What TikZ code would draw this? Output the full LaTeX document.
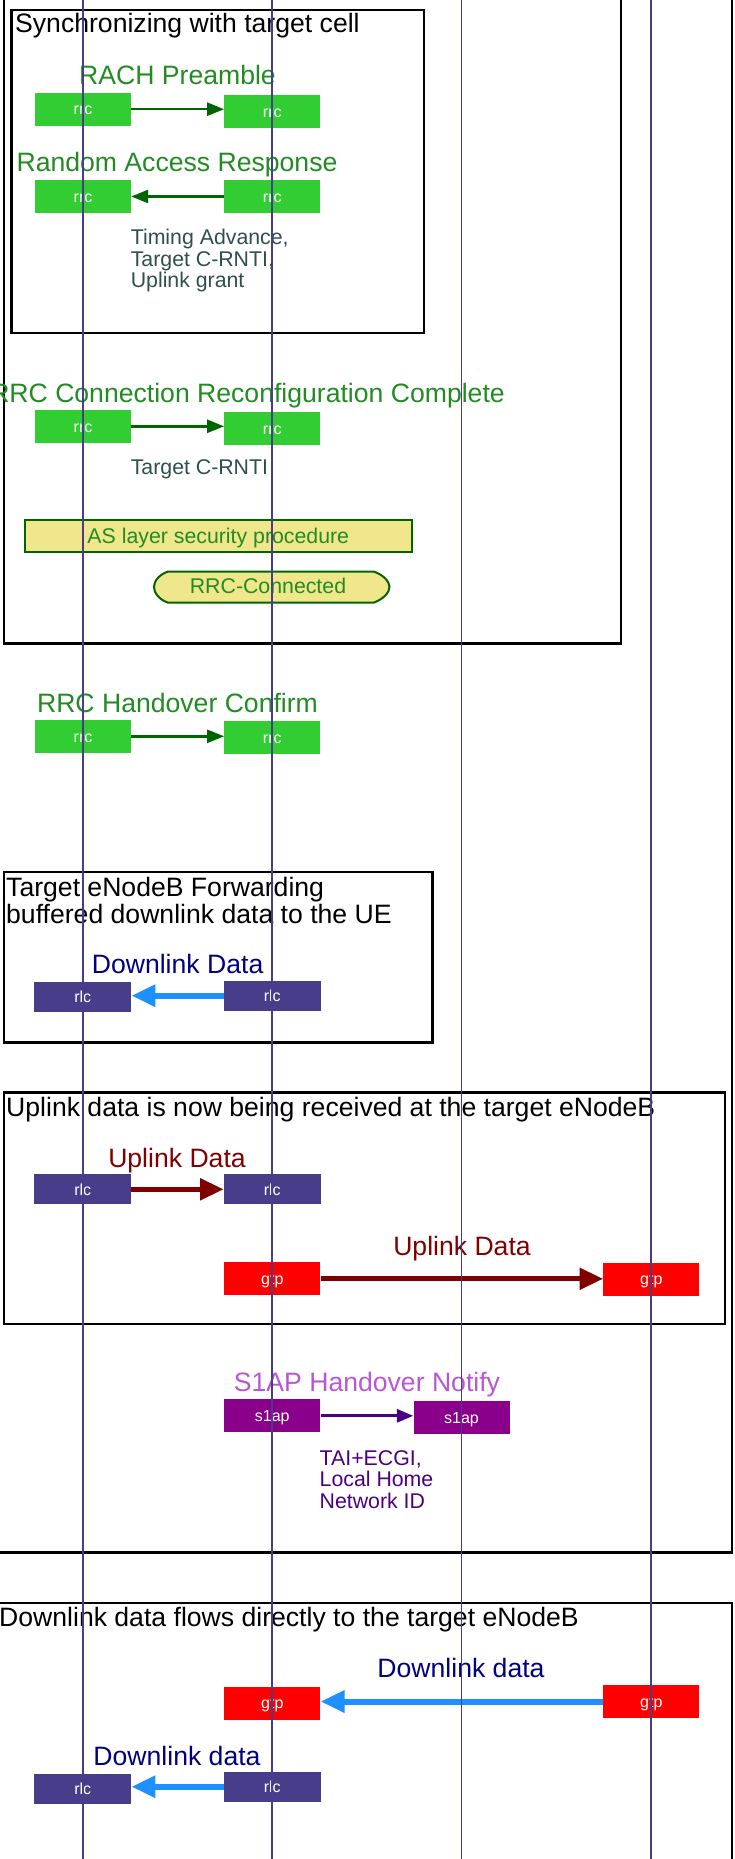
\documentclass[tikz,border=0pt]{standalone}
\usepackage{fontspec}
\setmainfont{Liberation Sans}
\usetikzlibrary{arrows.meta}
\definecolor{rrcfill}{HTML}{32CD32}
\definecolor{rrclabel}{HTML}{228B22}
\definecolor{rrcarrowc}{HTML}{006400}
\definecolor{rlcfill}{HTML}{483D8B}
\definecolor{dlblue}{HTML}{1E90FF}
\definecolor{navyc}{HTML}{000080}
\definecolor{ulred}{HTML}{800000}
\definecolor{gtpfill}{HTML}{FF0000}
\definecolor{s1apfill}{HTML}{8B008B}
\definecolor{orchidc}{HTML}{BA55D3}
\definecolor{indigoc}{HTML}{4B0082}
\definecolor{slatec}{HTML}{2F4F4F}
\definecolor{khakic}{HTML}{F0E68C}
\definecolor{lifec}{HTML}{483D8B}
\begin{document}
\begin{tikzpicture}[x=1pt,y=-1pt,
  msgbox/.style={minimum width=96pt, minimum height=33pt, inner sep=0pt, text=white,
     font=\fontsize{16}{16}\selectfont, text height=11.5pt, text depth=0pt},
  rrcbox/.style={msgbox, fill=rrcfill},
  rlcbox/.style={msgbox, fill=rlcfill, minimum height=30pt, minimum width=97pt},
  gtpbox/.style={msgbox, fill=gtpfill},
  s1apbox/.style={msgbox, fill=s1apfill},
  lbl/.style={inner sep=0pt, anchor=base, font=\fontsize{26.6}{26.6}\selectfont},
  notetext/.style={inner sep=0pt, anchor=base west, font=\fontsize{21.3}{21}\selectfont},
  titletext/.style={inner sep=0pt, anchor=base west, font=\fontsize{26.6}{26.6}\selectfont, text=black},
  framebox/.style={draw=black, line width=2.5pt},
  lifeline/.style={draw=lifec, line width=1.8pt},
  rrcarrow/.style={draw=rrcarrowc, line width=2.5pt, -{Triangle[length=17pt,width=13pt]}},
  bluearrow/.style={draw=dlblue, line width=6pt, -{Triangle[length=24pt,width=21pt]}},
  redarrow/.style={draw=ulred, line width=5pt, -{Triangle[length=23.5pt,width=21pt]}},
  s1aparrow/.style={draw=indigoc, line width=3pt, -{Triangle[length=16.5pt,width=13pt]}},
  khakibox/.style={fill=khakic, draw=rrcarrowc, line width=2pt}
]
\useasboundingbox (0,0) rectangle (734,1859);
\clip (0,0) rectangle (734,1859);

% frames
\draw[framebox] (-10,-10) rectangle (732,1552.5);
\draw[framebox] (3.8,-10) rectangle (621,643.3);
\draw[framebox] (11.7,10) rectangle (424,333);
\draw[framebox] (3.8,872) rectangle (432.3,1042.3);
\draw[framebox] (3.8,1092.3) rectangle (725,1324);
\draw[framebox] (-10,1603) rectangle (732,1875);

% titles
\node[titletext] (tsync) at (15,33) {Synchronizing with target cell};
\node[titletext] (tfwd) at (6,896.7) {\begin{tabular}[t]{@{}l@{}}Target eNodeB Forwarding\\buffered downlink data to the UE\end{tabular}};
\node[titletext] (tul) at (6,1116.7) {Uplink data is now being received at the target eNodeB};
\node[titletext] (tdl) at (-1,1626.7) {Downlink data flows directly to the target eNodeB};

% RACH Preamble
\node[lbl, text=rrclabel] (lab1) at (177.5,85) {RACH Preamble};
\node[rrcbox] (r1a) at (83,109.2) {rrc};
\node[rrcbox] (r1b) at (272.3,111.3) {rrc};
\draw[rrcarrow] (r1a.east) -- (r1a.east -| r1b.west);

% Random Access Response
\node[lbl, text=rrclabel] (lab2) at (177,172) {Random Access Response};
\node[rrcbox] (r2a) at (83,196.5) {rrc};
\node[rrcbox] (r2b) at (272.3,196.5) {rrc};
\draw[rrcarrow] (r2b.west) -- (r2b.west -| r2a.east);
\node[notetext, text=slatec] (n1) at (130.6,245) {\begin{tabular}[t]{@{}l@{}}Timing Advance,\\Target C-RNTI,\\Uplink grant\end{tabular}};

% RRC Connection Reconfiguration Complete
\node[lbl, anchor=base east, text=rrclabel] (lab3) at (505,402.7) {RRC Connection Reconfiguration Complete};
\node[rrcbox] (r3a) at (83,426.3) {rrc};
\node[rrcbox] (r3b) at (272.3,428.8) {rrc};
\draw[rrcarrow] (r3a.east) -- (r3a.east -| r3b.west);
\node[notetext, text=slatec] (n2) at (130.6,474) {Target C-RNTI};

% AS layer security
\node[khakibox, minimum width=386.6pt, minimum height=32.3pt, inner sep=0pt, text=rrclabel,
  font=\fontsize{21.3}{21}\selectfont, text height=15.3pt, text depth=0pt] (as) at (218.3,536.2) {AS layer security procedure};

% RRC-Connected
\draw[khakibox] (168,571.5) -- (373.5,571.5)
  .. controls (384,575) and (389.5,582) .. (389.5,587)
  .. controls (389.5,592) and (384,599) .. (373.5,602.7)
  -- (168,602.7)
  .. controls (158,599) and (154,592) .. (154,587)
  .. controls (154,582) and (158,575) .. (168,571.5) -- cycle;
\node[lbl, text=rrclabel, font=\fontsize{21.3}{21}\selectfont] (rrcconn) at (268,593.5) {RRC-Connected};

% RRC Handover Confirm
\node[lbl, text=rrclabel] (lab4) at (177.5,712.7) {RRC Handover Confirm};
\node[rrcbox] (r4a) at (83,736.3) {rrc};
\node[rrcbox] (r4b) at (272.3,737.8) {rrc};
\draw[rrcarrow] (r4a.east) -- (r4a.east -| r4b.west);

% Downlink Data (forwarding)
\node[lbl, text=navyc] (lab5) at (177.6,973.3) {Downlink Data};
\node[rlcbox] (l1a) at (82.7,997.2) {rlc};
\node[rlcbox] (l1b) at (272.3,995.7) {rlc};
\draw[bluearrow] (l1b.west) -- (l1b.west -| l1a.east);

% Uplink Data
\node[lbl, text=ulred] (lab6) at (177,1167.7) {Uplink Data};
\node[rlcbox] (l2a) at (82.7,1189.3) {rlc};
\node[rlcbox] (l2b) at (272.3,1189.3) {rlc};
\draw[redarrow] (l2a.east) -- (l2a.east -| l2b.west);
\node[lbl, text=ulred] (lab7) at (462,1255) {Uplink Data};
\node[gtpbox] (g1a) at (272.3,1278.8) {gtp};
\node[gtpbox] (g1b) at (651.3,1279.2) {gtp};
\draw[redarrow] (g1a.east) -- (g1a.east -| g1b.west);

% S1AP Handover Notify
\node[lbl, text=orchidc] (lab8) at (367,1391.7) {S1AP Handover Notify};
\node[s1apbox] (s1a) at (272.3,1415.8) {s1ap};
\node[s1apbox] (s1b) at (461.5,1417.8) {s1ap};
\draw[s1aparrow] (s1a.east) -- (s1a.east -| s1b.west);
\node[notetext, text=indigoc] (n3) at (319.5,1465) {\begin{tabular}[t]{@{}l@{}}TAI+ECGI,\\Local Home\\Network ID\end{tabular}};

% Downlink data direct
\node[lbl, text=navyc] (lab9) at (461,1677) {Downlink data};
\node[gtpbox] (g2a) at (272.3,1703) {gtp};
\node[gtpbox] (g2b) at (651.3,1701.5) {gtp};
\draw[bluearrow] (g2b.west) -- (g2b.west -| g2a.east);
\node[lbl, text=navyc] (lab10) at (177,1765) {Downlink data};
\node[rlcbox] (l3a) at (82.7,1789) {rlc};
\node[rlcbox] (l3b) at (272.3,1786.7) {rlc};
\draw[bluearrow] (l3b.west) -- (l3b.west -| l3a.east);

% lifelines (on top)
\foreach \i/\x in {1/82.7,2/272,3/461.5,4/650.8}{
  \coordinate (top\i) at (\x,0);
  \coordinate (bot\i) at (\x,1859);
  \draw[lifeline] (top\i) -- (bot\i);
}
\end{tikzpicture}
\end{document}
